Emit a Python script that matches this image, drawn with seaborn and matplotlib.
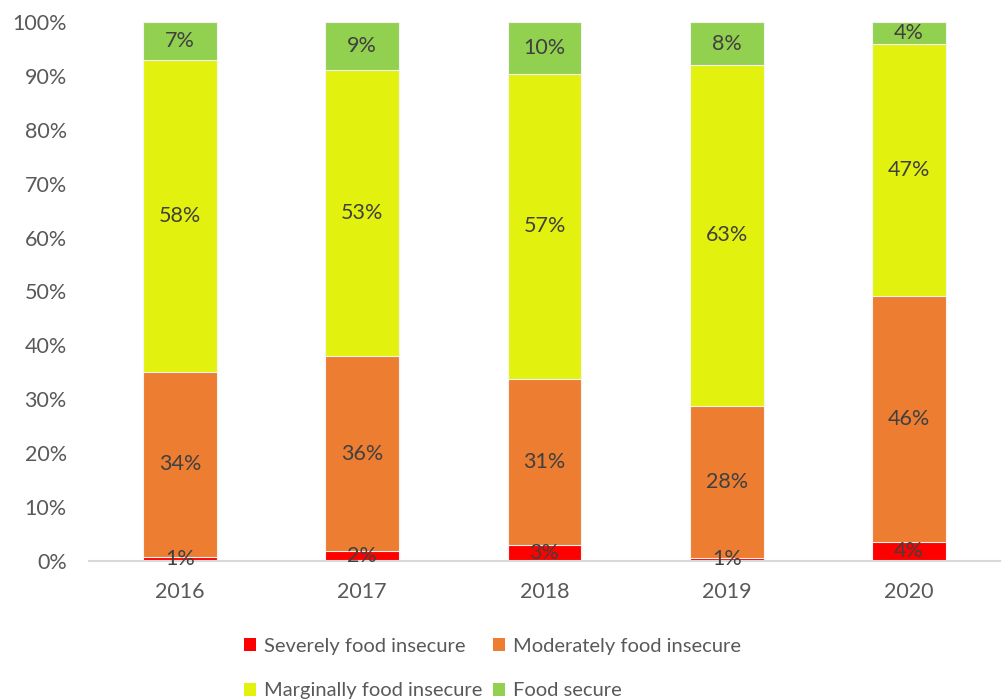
import matplotlib
matplotlib.use("Agg")
import matplotlib.pyplot as plt
from matplotlib.patches import Patch
import numpy as np
import pandas as pd
import seaborn as sns

years = ["2016", "2017", "2018", "2019", "2020"]
severely = [0.8, 1.8, 2.9, 0.6, 3.6]
moderately = [34.2, 36.2, 30.9, 28.2, 45.6]
marginally = [58.0, 53.1, 56.6, 63.2, 46.7]
secure = [7.0, 8.9, 9.6, 8.0, 4.1]

series_names = ["Severely food insecure", "Moderately food insecure",
                "Marginally food insecure", "Food secure"]
series_values = [severely, moderately, marginally, secure]
series_colors = ["#FF0000", "#ED7D31", "#E2F20E", "#92D050"]

sns.set_theme(style="white")
plt.rcParams["font.family"] = ["Lato", "DejaVu Sans"]
text_color = "#595959"

fig = plt.figure(figsize=(10.02, 7.0), dpi=100)
ax = fig.add_axes([0.0888, 0.1986, 0.9092, 0.77])

# cumulative tops for each stacked layer
vals = np.array(series_values)
tops = np.cumsum(vals, axis=0)
bottoms = tops - vals

# draw the tallest cumulative layer first so lower layers sit on top
for i in range(len(series_names) - 1, -1, -1):
    df = pd.DataFrame({"year": years, "top": tops[i]})
    sns.barplot(data=df, x="year", y="top", order=years, color=series_colors[i],
                width=0.405, edgecolor="#F4F4F4", linewidth=0.8, saturation=1,
                ax=ax, errorbar=None)

# segment value labels
for i in range(len(series_names)):
    for j, year in enumerate(years):
        mid = bottoms[i, j] + vals[i, j] / 2
        ax.text(j, mid, f"{round(vals[i, j])}%", ha="center", va="center",
                fontsize=15.5, color="#404040")

ax.set_ylim(0, 100)
ax.set_xlim(-0.5, 4.5)
ax.set_yticks(np.arange(0, 101, 10))
ax.set_yticklabels([f"{t}%" for t in range(0, 101, 10)])
ax.set_xlabel("")
ax.set_ylabel("")
ax.tick_params(axis="both", length=0, labelsize=15.5, labelcolor=text_color)
ax.tick_params(axis="y", pad=16)
ax.tick_params(axis="x", pad=15)
for side in ["left", "right", "top"]:
    ax.spines[side].set_visible(False)
ax.spines["bottom"].set_color("#D9D9D9")
ax.spines["bottom"].set_linewidth(1.5)
ax.grid(False)

# legend laid out row by row: matplotlib fills columns, so interleave
order = [0, 2, 1, 3]
handles = [Patch(facecolor=series_colors[k], edgecolor="none") for k in order]
labels = [series_names[k] for k in order]
fig.legend(handles, labels, ncol=2, loc="upper left",
           bbox_to_anchor=(0.2435, 0.089), frameon=False,
           fontsize=14.5, labelcolor=text_color, handlelength=0.62,
           handleheight=0.62, handletextpad=0.35, columnspacing=0.55,
           labelspacing=1.38, borderaxespad=0, borderpad=0)

fig.savefig("out.png", dpi=100)
